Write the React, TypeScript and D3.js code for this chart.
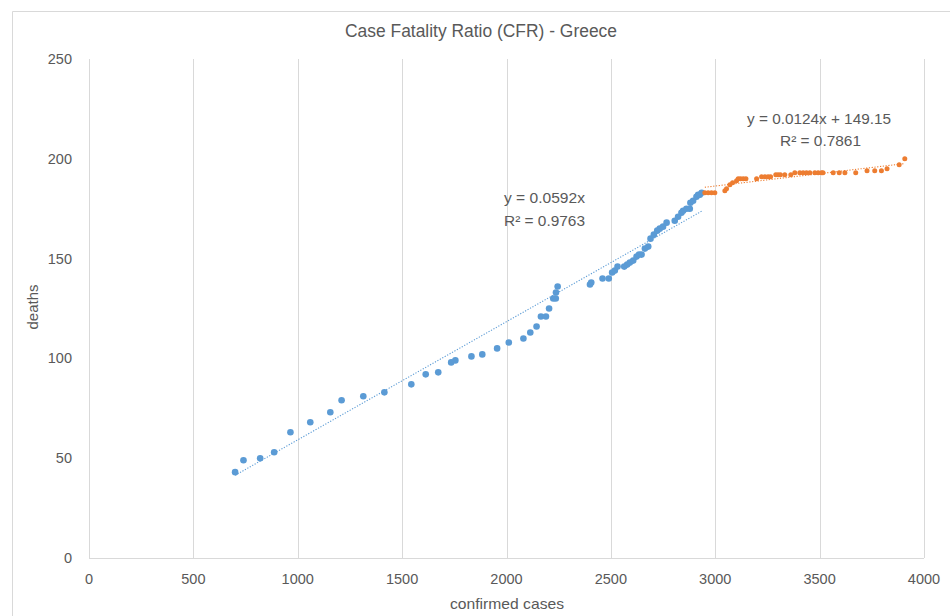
import React from "react";
import * as d3 from "d3";

const title = "Case Fatality Ratio (CFR) - Greece";
const xTicks = [0, 500, 1000, 1500, 2000, 2500, 3000, 3500, 4000];
const yTicks = [0, 50, 100, 150, 200, 250];

const blueX = [700, 740, 820, 887, 965, 1060, 1156, 1210, 1314, 1415, 1544, 1613, 1673, 1735, 1755, 1832, 1884, 1955, 2011, 2081, 2114, 2144, 2165, 2189, 2204, 2224, 2236, 2237, 2245, 2400, 2406, 2460, 2490, 2506, 2519, 2532, 2564, 2578, 2591, 2607, 2623, 2635, 2647, 2663, 2679, 2690, 2706, 2722, 2734, 2750, 2767, 2806, 2822, 2838, 2846, 2862, 2878, 2881, 2894, 2910, 2918, 2926, 2935];
const blueY = [43, 49, 50, 53, 63, 68, 73, 79, 81, 83, 87, 92, 93, 98, 99, 101, 102, 105, 108, 110, 113, 116, 121, 121, 125, 130, 130, 133, 136, 137, 138, 140, 140, 143, 144, 146, 146, 147, 148, 149, 151, 152, 152, 155, 156, 160, 162, 164, 165, 166, 168, 169, 171, 173, 174, 175, 175, 178, 179, 181, 182, 182, 183];

const orangeX = [2950, 2966, 2982, 2998, 3046, 3054, 3070, 3083, 3102, 3110, 3121, 3134, 3147, 3198, 3222, 3238, 3253, 3265, 3290, 3301, 3312, 3333, 3362, 3381, 3405, 3421, 3437, 3453, 3477, 3493, 3509, 3516, 3565, 3594, 3621, 3673, 3727, 3764, 3796, 3823, 3881, 3908];
const orangeY = [183, 183, 183, 183, 184, 185, 187, 188, 189, 190, 190, 190, 190, 190, 191, 191, 191, 191, 192, 192, 192, 192, 192, 193, 193, 193, 193, 193, 193, 193, 193, 193, 193, 193, 193, 193, 194, 194, 194, 195, 197, 200];

const blueSlope = 0.0592;
const blueIntercept = 0;
const orangeSlope = 0.0124;
const orangeIntercept = 149.15;
const blueEq = ["y = 0.0592x", "R² = 0.9763"];
const orangeEq = ["y = 0.0124x + 149.15", "R² = 0.7861"];

const W = 950;
const H = 616;
const FONT = "'Liberation Sans', Arial, sans-serif";
const TXT = "#595959";
const BLUE = "#5B9BD5";
const ORANGE = "#ED7D31";

export default function App() {
  const x = d3.scaleLinear().domain([0, 4000]).range([89, 924]);
  const y = d3.scaleLinear().domain([0, 250]).range([558, 59]);

  const trend = (xs: number[], m: number, b: number) => {
    const lo = d3.min(xs) as number;
    const hi = d3.max(xs) as number;
    const line = d3.line<number>().x((v) => x(v)).y((v) => y(m * v + b));
    return line([lo, hi]) || "";
  };

  return (
    <svg width={W} height={H} style={{ position: "absolute", left: 0, top: 0, background: "#fff" }}>
      <rect x={0} y={0} width={W} height={H} fill="#fff" />
      <path d={`M12.5,${H} V11.5 H${W}`} fill="none" stroke="#d9d9d9" strokeWidth={1} />
      <text x={481} y={37} textAnchor="middle" fontFamily={FONT} fontSize={17.5} fill={TXT} textLength={272} lengthAdjust="spacingAndGlyphs">
        {title}
      </text>
      {xTicks.map((t) => (
        <line key={"g" + t} x1={Math.round(x(t)) + 0.5} x2={Math.round(x(t)) + 0.5} y1={y(250)} y2={y(0)} stroke="#d9d9d9" strokeWidth={1} />
      ))}
      <line x1={x(0)} x2={x(4000)} y1={Math.round(y(0)) + 0.5} y2={Math.round(y(0)) + 0.5} stroke="#d9d9d9" strokeWidth={1} />
      {xTicks.map((t) => (
        <text key={"xt" + t} x={x(t)} y={584} textAnchor="middle" fontFamily={FONT} fontSize={14.5} fill={TXT}>
          {t}
        </text>
      ))}
      {yTicks.map((t) => (
        <text key={"yt" + t} x={72} y={y(t) + 5} textAnchor="end" fontFamily={FONT} fontSize={14.5} fill={TXT}>
          {t}
        </text>
      ))}
      <text x={507} y={609} textAnchor="middle" fontFamily={FONT} fontSize={15} fill={TXT} textLength={114} lengthAdjust="spacingAndGlyphs">
        confirmed cases
      </text>
      <text transform={`translate(38,307) rotate(-90)`} textAnchor="middle" fontFamily={FONT} fontSize={15} fill={TXT}>
        deaths
      </text>
      <path d={trend(blueX, blueSlope, blueIntercept)} fill="none" stroke={BLUE} strokeWidth={1.1} strokeDasharray="1.2 1.6" />
      {blueX.map((v, i) => (
        <circle key={"b" + i} cx={x(v)} cy={y(blueY[i])} r={3.3} fill={BLUE} />
      ))}
      <path d={trend(orangeX, orangeSlope, orangeIntercept)} fill="none" stroke={ORANGE} strokeWidth={1.1} strokeDasharray="1.2 1.6" />
      {orangeX.map((v, i) => (
        <circle key={"o" + i} cx={x(v)} cy={y(orangeY[i])} r={2.5} fill={ORANGE} />
      ))}
      <text x={504} y={203} fontFamily={FONT} fontSize={15} fill={TXT} textLength={81} lengthAdjust="spacingAndGlyphs">{blueEq[0]}</text>
      <text x={504} y={226} fontFamily={FONT} fontSize={15} fill={TXT} textLength={81} lengthAdjust="spacingAndGlyphs">{blueEq[1]}</text>
      <text x={747} y={124} fontFamily={FONT} fontSize={15} fill={TXT} textLength={144} lengthAdjust="spacingAndGlyphs">{orangeEq[0]}</text>
      <text x={780} y={146} fontFamily={FONT} fontSize={15} fill={TXT} textLength={81} lengthAdjust="spacingAndGlyphs">{orangeEq[1]}</text>
    </svg>
  );
}
